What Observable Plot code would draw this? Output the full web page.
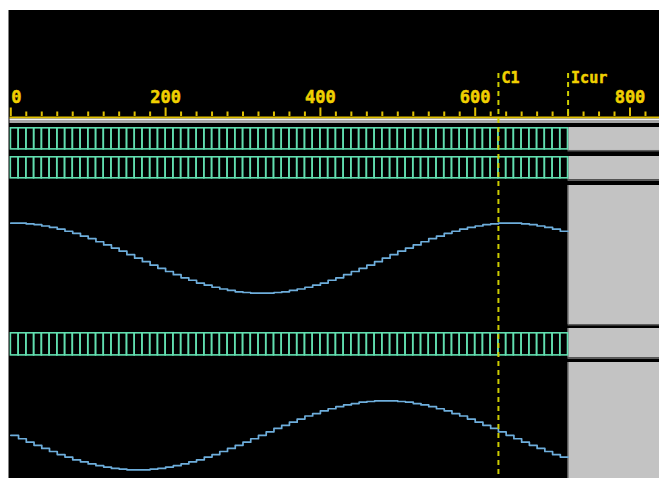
<!DOCTYPE html>
<html><head><meta charset="utf-8">
<script src="https://cdn.jsdelivr.net/npm/d3@7"></script>
<script src="https://cdn.jsdelivr.net/npm/@observablehq/plot@0.6"></script>
<style>
html,body{margin:0;padding:0;background:#fff;}
#panel{position:absolute;left:8px;top:10px;width:650px;height:468px;background:#000;border-left:1.3px solid #808080;overflow:hidden;}
</style></head><body><div id="panel"></div>
<script>
// ---- data ----
const majorTicks = [0, 200, 400, 600, 800];
const minorTicks = [20,40,60,80,100,120,140,160,180,220,240,260,280,300,320,340,360,380,420,440,460,480,500,520,540,560,580,620,640,660,680,700,720,740,760,780,820];
const cursorNames = ["C1", "Icur"];
const cursorTimes = [630, 720];
const endTime = 720;
const viewEnd = 840;
const sampleTimes = [0,10,20,30,40,50,60,70,80,90,100,110,120,130,140,150,160,170,180,190,200,210,220,230,240,250,260,270,280,290,300,310,320,330,340,350,360,370,380,390,400,410,420,430,440,450,460,470,480,490,500,510,520,530,540,550,560,570,580,590,600,610,620,630,640,650,660,670,680,690,700,710];
const wave1 = [100,100,98,96,92,88,83,77,71,63,56,47,38,29,20,10,0,-10,-20,-29,-38,-47,-56,-63,-71,-77,-83,-88,-92,-96,-98,-100,-100,-100,-98,-96,-92,-88,-83,-77,-71,-63,-56,-47,-38,-29,-20,-10,0,10,20,29,38,47,56,63,71,77,83,88,92,96,98,100,100,100,98,96,92,88,83,77];
const wave2 = [0,-10,-20,-29,-38,-47,-56,-63,-71,-77,-83,-88,-92,-96,-98,-100,-100,-100,-98,-96,-92,-88,-83,-77,-71,-63,-56,-47,-38,-29,-20,-10,0,10,20,29,38,47,56,63,71,77,83,88,92,96,98,100,100,100,98,96,92,88,83,77,71,63,56,47,38,29,20,10,0,-10,-20,-29,-38,-47,-56,-63];

// ---- styles ----
const W = 650;
const xScale = {domain: [0, 800], range: [1.3, 620.5], axis: null};
const yellow = "#f0d000", axisYellow = "#e0c000", cursorYellow = "#cccc00";
const green = "#62dfb0", blue = "#6eaedc", grey = "#c3c3c3", darkGrey = "#5e5e5e";
const font = "'DejaVu Sans Mono', monospace";
const panel = document.getElementById("panel");
function place(svg, top) { svg.style.position = "absolute"; svg.style.top = top + "px"; svg.style.left = "0px"; svg.style.background = "transparent"; svg.style.overflow = "visible"; panel.appendChild(svg); }
const labelStyle = {fill: yellow, stroke: yellow, strokeWidth: 0.5, fontWeight: "bold", fontFamily: font};

// ---- header ----
const HH = 112.5;
place(Plot.plot({
  width: W, height: HH, margin: 0, x: xScale,
  marks: [
    Plot.frame({fill: axisYellow, stroke: "none", insetTop: 106, insetBottom: HH - 108}),
    Plot.frame({fill: "#f4f4f4", stroke: "none", insetTop: 108, insetBottom: HH - 109.5}),
    Plot.frame({fill: "#a6a6a6", stroke: "none", insetTop: 109.5, insetBottom: 0}),
    Plot.ruleX(majorTicks, {x: d => d, stroke: axisYellow, strokeWidth: 2, insetTop: 97.5, insetBottom: HH - 106}),
    Plot.ruleX(minorTicks, {x: d => d, stroke: axisYellow, strokeWidth: 2, insetTop: 101.5, insetBottom: HH - 106}),
    Plot.text(majorTicks.slice(0, 1), {x: d => d, text: d => String(d), frameAnchor: "top", dy: 92, dx: 0.5, lineAnchor: "bottom", textAnchor: "start", fontSize: 17, ...labelStyle}),
    Plot.text(majorTicks.slice(1), {x: d => d, text: d => String(d), frameAnchor: "top", dy: 92, lineAnchor: "bottom", textAnchor: "middle", fontSize: 17, ...labelStyle}),
    Plot.text(cursorTimes, {x: d => d, text: (d, i) => cursorNames[i], frameAnchor: "top", dy: 72, dx: 3, lineAnchor: "bottom", textAnchor: "start", fontSize: 15, letterSpacing: 1, ...labelStyle})
  ]
}), 0);

// ---- rows ----
const rows = [
  {top: 117,   h: 28.7,  block: 23,   border: 1.5, bus: [0, 28.7 - 22.7]},
  {top: 145.7, h: 29.3,  block: 23.3, border: 1.7, bus: [0, 29.3 - 22.6]},
  {top: 175,   h: 143.3, block: 139,  border: 1.5, wave: wave1, yr: [107.7, 37.7]},
  {top: 318.3, h: 33.4,  block: 29.4, border: 1.6, bus: [4, 33.4 - 27.7]},
  {top: 351.7, h: 116.3, block: 116.3, border: 0, wave: wave2, yr: [107.3, 38.3]}
];
for (const r of rows) {
  const marks = [
    Plot.rect([endTime], {x1: d => d, x2: () => viewEnd, fill: grey, insetBottom: r.h - r.block}),
    Plot.rect([endTime], {x1: d => d, x2: () => viewEnd, fill: darkGrey, insetTop: r.block, insetBottom: Math.max(0, r.h - r.block - r.border)}),
    Plot.ruleX([endTime], {x: d => d, stroke: darkGrey, strokeWidth: 1, insetBottom: r.h - r.block})
  ];
  if (r.bus) {
    marks.push(Plot.rect(sampleTimes, {
      x1: d => d, x2: (d, i) => (i + 1 < sampleTimes.length ? sampleTimes[i + 1] : endTime),
      fill: "none", stroke: green, strokeWidth: 1.6, insetTop: r.bus[0] + 0.8, insetBottom: r.bus[1] + 0.8
    }));
  }
  let y;
  if (r.wave) {
    const table = sampleTimes.map((t, i) => ({t, v: r.wave[i]}));
    table.push({t: endTime, v: r.wave[r.wave.length - 1]});
    marks.push(Plot.line(table, {x: "t", y: "v", curve: "step-after", stroke: blue, strokeWidth: 1.7}));
    y = {domain: [-100, 100], range: r.yr, axis: null};
  }
  place(Plot.plot({width: W, height: r.h, margin: 0, x: xScale, y: y, marks}), r.top);
}

// ---- cursors overlay ----
place(Plot.plot({
  width: W, height: 468, margin: 0, x: xScale,
  marks: [
    Plot.ruleX(cursorTimes.slice(0, 1), {x: d => d, stroke: cursorYellow, strokeWidth: 2, strokeDasharray: "5,4", insetTop: 63}),
    Plot.ruleX(cursorTimes.slice(1), {x: d => d, stroke: cursorYellow, strokeWidth: 2, strokeDasharray: "5,4", insetTop: 63, insetBottom: 468 - 106})
  ]
}), 0);
</script></body></html>
